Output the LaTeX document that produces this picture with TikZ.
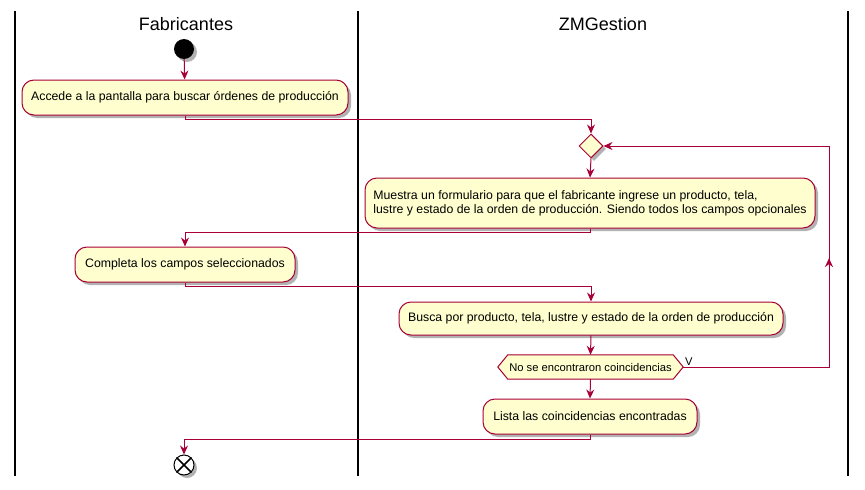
\documentclass[tikz,border=0pt]{standalone}
\usepackage{fontspec}
\setmainfont{Liberation Sans}
\usetikzlibrary{shapes.geometric,arrows.meta,shadows,decorations.markings,backgrounds}
\definecolor{pbord}{HTML}{A80036}
\definecolor{pfill}{HTML}{FEFECE}
\tikzset{ptip/.tip={Stealth[length=9pt,width=8pt,inset=3pt]}}
\begin{document}
\begin{tikzpicture}[x=1pt,y=-1pt,
  shad/.style={drop shadow={shadow xshift=3pt,shadow yshift=-3pt,opacity=0.3,fill=black}},
  act/.style={draw=pbord, fill=pfill, line width=1pt, rounded corners=12pt,
    font=\fontsize{12.3}{14.3}\selectfont, inner sep=0pt, shad},
  lane/.style={draw=black, line width=1.5pt},
  title/.style={font=\fontsize{18}{20}\selectfont},
  flow/.style={draw=pbord, line width=1pt, -ptip},
  hexline/.style={draw=pbord, fill=pfill, line width=1pt}
]
\useasboundingbox (0,0) rectangle (865,490);

% swimlanes
\coordinate (l1t) at (15,11);  \coordinate (l1b) at (15,476);
\coordinate (l2t) at (358,11); \coordinate (l2b) at (358,476);
\coordinate (l3t) at (848,11); \coordinate (l3b) at (848,476);
\draw[lane] (l1t) -- (l1b);
\draw[lane] (l2t) -- (l2b);
\draw[lane] (l3t) -- (l3b);
\node[title] (t1) at (186,24) {Fabricantes};
\node[title] (t2) at (603,24) {ZMGestion};

% nodes
\node[circle, fill=black, minimum size=20pt, inner sep=0pt, shad] (s) at (184,49) {};
\node[act, minimum width=326pt, minimum height=35pt] (b1) at (185,97.5)
  {Accede a la pantalla para buscar órdenes de producción};
\node[diamond, draw=pbord, fill=pfill, line width=1pt, minimum width=24pt, minimum height=24pt, inner sep=0pt, shad] (d) at (591,146) {};
\node[act, minimum width=450pt, minimum height=50pt, align=left] (b2) at (590,203)
  {Muestra un formulario para que el fabricante ingrese un producto, tela,\\lustre y estado de la orden de producción. Siendo todos los campos opcionales};
\node[act, minimum width=220pt, minimum height=35pt] (b3) at (185,264.5)
  {Completa los campos seleccionados};
\node[act, minimum width=384pt, minimum height=33pt] (b4) at (591,318.5)
  {Busca por producto, tela, lustre y estado de la orden de producción};
\node[minimum width=165pt, minimum height=24pt, inner sep=0pt, font=\fontsize{11.2}{13}\selectfont] (h) at (590.5,367)
  {No se encontraron coincidencias};
\begin{scope}[on background layer]
  \fill[black, opacity=0.3, xshift=3pt, yshift=-3pt] ([xshift=-10pt]h.west) -- (h.north west) -- (h.north east) -- ([xshift=10pt]h.east) -- (h.south east) -- (h.south west) -- cycle;
  \path[hexline] ([xshift=-10pt]h.west) -- (h.north west) -- (h.north east) -- ([xshift=10pt]h.east) -- (h.south east) -- (h.south west) -- cycle;
\end{scope}
\node[act, minimum width=214pt, minimum height=35pt] (b5) at (590,416.5)
  {Lista las coincidencias encontradas};
\node[circle, draw=black, fill=white, line width=1pt, minimum size=20pt, inner sep=0pt, shad] (e) at (184,465) {};
\draw[black, line width=1.6pt] (e.north east) -- (e.south west) (e.north west) -- (e.south east);

% connectors
\draw[flow] (s) -- (b1);
\draw[flow] (b1.south) -- ++(0,4) -| (d.north);
\draw[flow] (d.south) -- (b2.north);
\draw[flow] (b2.south) -- ++(0,4) -| (b3.north);
\draw[flow] (b3.south) -- ++(0,4) -| (b4.north);
\draw[flow] (b4.south) -- (h.north);
\draw[flow] (h.south) -- (b5.north);
\draw[flow] (b5.south) -- ++(0,5) -| (e.north);
\coordinate (hr) at ([xshift=10pt]h.east);
\coordinate (lp) at (829,367);
\draw[flow, postaction={decorate, decoration={markings, mark=at position 0.43 with {\arrow{ptip}}}}]
  (hr) -- (lp) |- (d.east);
\node[anchor=south west, inner sep=0pt, font=\fontsize{11.2}{13}\selectfont] (v) at (685,366) {V};
\end{tikzpicture}
\end{document}
